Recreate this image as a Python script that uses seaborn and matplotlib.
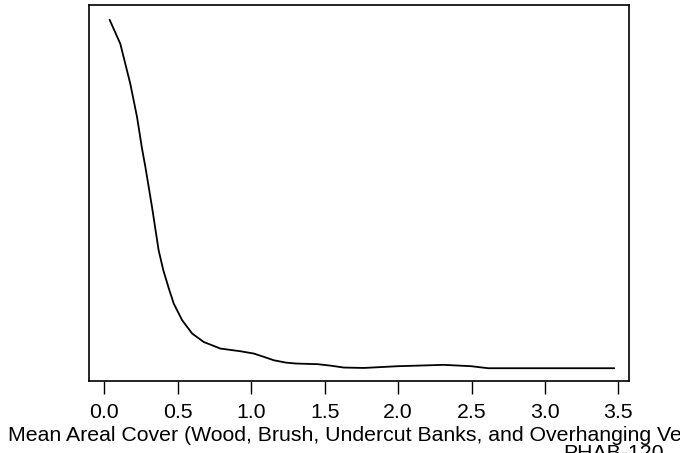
import matplotlib
matplotlib.use("Agg")
import matplotlib.pyplot as plt
import seaborn as sns
import pandas as pd

# Density curve
cover = [0.036, 0.109, 0.177, 0.223, 0.257, 0.280, 0.325, 0.370, 0.402, 0.439,
         0.473, 0.530, 0.598, 0.677, 0.791, 0.928, 1.018, 1.085, 1.155, 1.235,
         1.303, 1.453, 1.542, 1.630, 1.767, 1.999, 2.312, 2.497, 2.613, 2.838,
         3.111, 3.472]
density = [2.591, 2.412, 2.115, 1.867, 1.632, 1.495, 1.198, 0.877, 0.728, 0.594,
           0.480, 0.357, 0.258, 0.195, 0.146, 0.126, 0.109, 0.085, 0.059, 0.042,
           0.035, 0.030, 0.019, 0.005, 0.002, 0.015, 0.025, 0.015, 0.000, 0.000,
           0.000, 0.000]
xticks = [0.0, 0.5, 1.0, 1.5, 2.0, 2.5, 3.0, 3.5]
xlabel = "Mean Areal Cover (Wood, Brush, Undercut Banks, and Overhanging Vegetation)"
tag = "PHAB-120"

sns.set_style("ticks")
plt.rcParams['font.family'] = ['Liberation Sans', 'DejaVu Sans']

df = pd.DataFrame({"x": cover, "y": density})

fig = plt.figure(figsize=(6.8, 4.53), dpi=100)
ax = fig.add_axes([89/680, 1 - 381/453, (629-89)/680, (381-5)/453])
sns.lineplot(data=df, x="x", y="y", color="black", linewidth=1.3, ax=ax)

ax.set_xlim(-0.104, 3.572)
ax.set_ylim(-0.095, 2.7)
ax.set_xticks(xticks)
ax.set_xticklabels([f"{t:.1f}" for t in xticks], fontsize=15.3)
ax.set_yticks([])
ax.set_xlabel("")
ax.set_ylabel("")
ax.tick_params(axis="x", length=9.5, width=1.0, pad=6, color="black", labelcolor="black")
for s in ax.spines.values():
    s.set_color("black")
    s.set_linewidth(1.2)

fig.text(8/680, 1 - 426/453, xlabel, fontsize=15.3, ha="left", va="top", color="black")
fig.text(563/680, 1 - 444/453, tag, fontsize=15.3, ha="left", va="top", color="black")

fig.savefig("out.png", dpi=100)
